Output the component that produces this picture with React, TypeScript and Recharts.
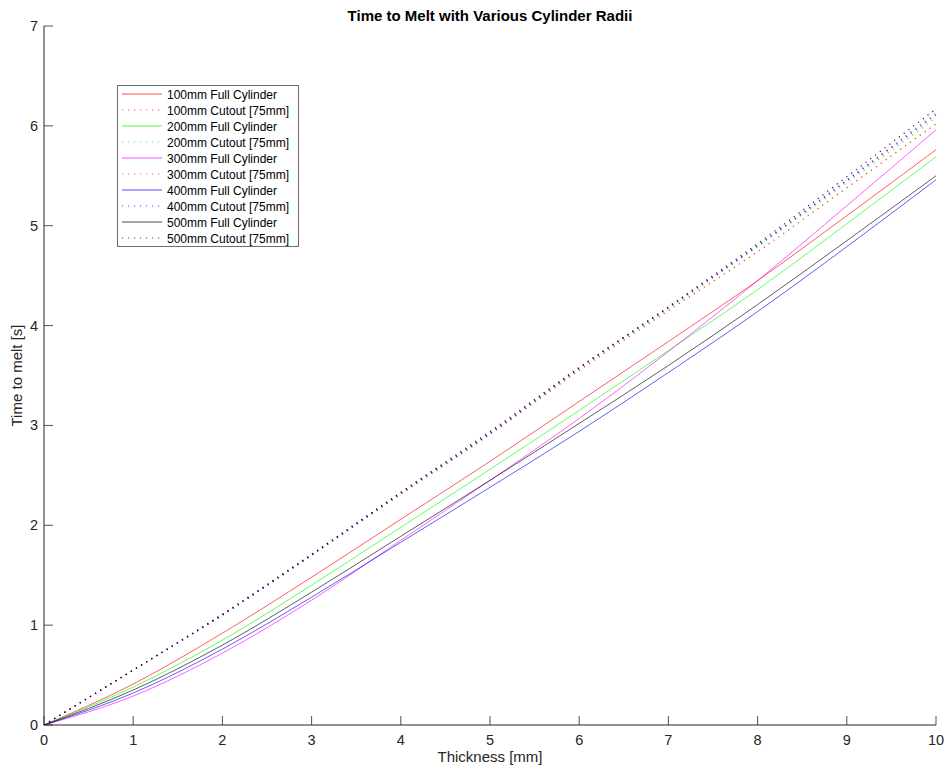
import { LineChart, Line, XAxis, YAxis, Label } from 'recharts';

const thickness = [0, 1, 2, 3, 4, 5, 6, 7, 8, 9, 10];
const xTicks = [0, 1, 2, 3, 4, 5, 6, 7, 8, 9, 10];
const yTicks = [0, 1, 2, 3, 4, 5, 6, 7];

const full100 = [0, 0.41, 0.92, 1.48, 2.06, 2.64, 3.24, 3.84, 4.45, 5.1, 5.76];
const cut100 = [0, 0.55, 1.1, 1.7, 2.31, 2.91, 3.55, 4.15, 4.74, 5.38, 6.02];
const full200 = [0, 0.38, 0.85, 1.4, 1.98, 2.56, 3.15, 3.75, 4.36, 5.02, 5.69];
const cut200 = [0, 0.55, 1.1, 1.7, 2.32, 2.92, 3.57, 4.17, 4.79, 5.43, 6.08];
const full300 = [0, 0.29, 0.72, 1.25, 1.85, 2.45, 3.07, 3.74, 4.45, 5.2, 5.96];
const cut300 = [0, 0.55, 1.11, 1.71, 2.33, 2.93, 3.58, 4.18, 4.8, 5.46, 6.13];
const full400 = [0, 0.32, 0.76, 1.28, 1.83, 2.38, 2.94, 3.53, 4.14, 4.79, 5.46];
const cut400 = [0, 0.55, 1.1, 1.7, 2.32, 2.92, 3.57, 4.18, 4.8, 5.45, 6.11];
const full500 = [0, 0.35, 0.8, 1.33, 1.89, 2.45, 3.02, 3.6, 4.21, 4.85, 5.5];
const cut500 = [0, 0.55, 1.11, 1.71, 2.33, 2.94, 3.58, 4.19, 4.82, 5.49, 6.17];

const series = [
  { key: 'full100', name: '100mm Full Cylinder', color: '#ff0000', dotted: false, values: full100 },
  { key: 'cut100', name: '100mm Cutout [75mm]', color: '#ff0000', dotted: true, values: cut100 },
  { key: 'full200', name: '200mm Full Cylinder', color: '#00ff00', dotted: false, values: full200 },
  { key: 'cut200', name: '200mm Cutout [75mm]', color: '#00ff00', dotted: true, values: cut200 },
  { key: 'full300', name: '300mm Full Cylinder', color: '#ff00ff', dotted: false, values: full300 },
  { key: 'cut300', name: '300mm Cutout [75mm]', color: '#ff00ff', dotted: true, values: cut300 },
  { key: 'full400', name: '400mm Full Cylinder', color: '#0000ff', dotted: false, values: full400 },
  { key: 'cut400', name: '400mm Cutout [75mm]', color: '#0000ff', dotted: true, values: cut400 },
  { key: 'full500', name: '500mm Full Cylinder', color: '#000000', dotted: false, values: full500 },
  { key: 'cut500', name: '500mm Cutout [75mm]', color: '#000000', dotted: true, values: cut500 },
];

const data = thickness.map((t, i) => {
  const row: Record<string, number> = { t };
  series.forEach(s => { row[s.key] = s.values[i]; });
  return row;
});

const FONT = '"Liberation Sans", Arial, Helvetica, sans-serif';
const AXIS = '#262626';
const DOTS = '1.2 4.8';

function XTick({ x, y, payload }: any) {
  return (
    <g>
      <line x1={x} y1={y} x2={x} y2={y - 9} stroke={AXIS} strokeWidth={0.8} />
      <text x={x} y={y + 20} textAnchor="middle" fontSize={14.5} fill={AXIS} fontFamily={FONT}>
        {payload.value}
      </text>
    </g>
  );
}

function YTick({ x, y, payload }: any) {
  return (
    <g>
      <line x1={x} y1={y} x2={x + 9} y2={y} stroke={AXIS} strokeWidth={0.8} />
      <text x={x - 6} y={y + 5} textAnchor="end" fontSize={14.5} fill={AXIS} fontFamily={FONT}>
        {payload.value}
      </text>
    </g>
  );
}

function YLabel({ viewBox }: any) {
  const cx = 18;
  const cy = viewBox.y + viewBox.height / 2;
  return (
    <text x={cx} y={cy} transform={`rotate(-90 ${cx} ${cy})`} textAnchor="middle" dominantBaseline="middle"
      fontSize={15} fill={AXIS} fontFamily={FONT}>
      Time to melt [s]
    </text>
  );
}

function XLabel({ viewBox }: any) {
  const cx = viewBox.x + viewBox.width / 2;
  return (
    <text x={cx} y={762} textAnchor="middle" fontSize={15} fill={AXIS} fontFamily={FONT}>
      Thickness [mm]
    </text>
  );
}

function LegendBox() {
  return (
    <div style={{
      position: 'absolute', left: 117, top: 85, width: 180, height: 160,
      border: `1px solid #6e6e6e`, background: '#fff', fontFamily: FONT,
    }}>
      <svg width={180} height={160}>
        {series.map((s, i) => {
          const y = 8 + i * 16;
          return (
            <g key={s.key}>
              <line x1={4} x2={44} y1={y} y2={y} stroke={s.color} strokeWidth={1}
                strokeOpacity={0.7} strokeDasharray={s.dotted ? DOTS : undefined} />
              <text x={49} y={y + 4.5} fontSize={12} fill="#000" fontFamily={FONT}>{s.name}</text>
            </g>
          );
        })}
      </svg>
    </div>
  );
}

export default function App() {
  return (
    <div style={{ position: 'absolute', left: 0, top: 0, width: 945, height: 769, background: '#fff' }}>
      <div style={{
        position: 'absolute', left: 44, width: 892, top: 7, textAlign: 'center',
        fontFamily: FONT, fontWeight: 700, fontSize: 15, color: '#000',
      }}>
        Time to Melt with Various Cylinder Radii
      </div>
      <LineChart width={945} height={769} data={data} margin={{ top: 26, right: 9, bottom: 0, left: 0 }}>
        <XAxis dataKey="t" type="number" domain={[0, 10]} ticks={xTicks} height={44}
          stroke={AXIS} tickLine={false} tickSize={0} tickMargin={0} tick={<XTick />} interval={0}>
          <Label content={<XLabel />} />
        </XAxis>
        <YAxis type="number" domain={[0, 7]} ticks={yTicks} width={44}
          stroke={AXIS} tickLine={false} tickSize={0} tickMargin={0} tick={<YTick />} interval={0}>
          <Label content={<YLabel />} />
        </YAxis>
        {series.map(s => (
          <Line key={s.key} type="monotone" dataKey={s.key} name={s.name} stroke={s.color}
            strokeWidth={s.dotted ? 1.2 : 0.9} strokeOpacity={s.dotted ? 0.85 : 0.7}
            strokeDasharray={s.dotted ? DOTS : undefined}
            dot={false} activeDot={false} isAnimationActive={false} />
        ))}
      </LineChart>
      <LegendBox />
    </div>
  );
}
